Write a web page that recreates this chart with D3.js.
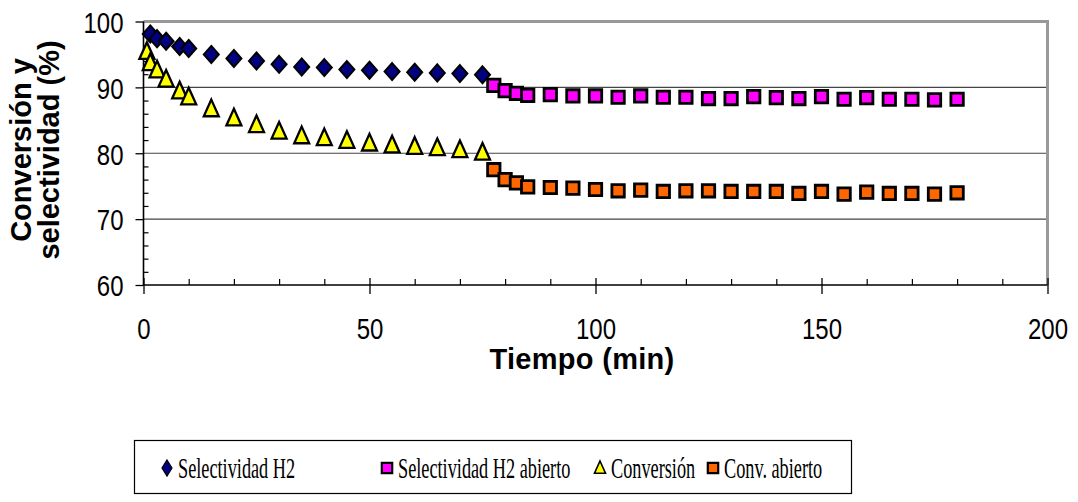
<!DOCTYPE html>
<html><head><meta charset="utf-8">
<script src="https://cdn.jsdelivr.net/npm/d3@7"></script>
<style>
body{margin:0;background:#fff;}
svg{display:block;}
</style></head>
<body>
<svg id="c" width="1078" height="502"></svg>
<script>
// ---- data ----
const selX = [1.5, 3, 5, 8, 10, 15, 20, 25, 30, 35, 40, 45, 50, 55, 60, 65, 70, 75];
const selY = [98.1, 97.4, 97.0, 96.2, 95.9, 95.0, 94.4, 94.0, 93.5, 93.1, 93.0, 92.7, 92.6, 92.4, 92.3, 92.2, 92.1, 91.9];
const convX = [0.75, 1.5, 3, 5, 8, 10, 15, 20, 25, 30, 35, 40, 45, 50, 55, 60, 65, 70, 75];
const convY = [95.4, 93.7, 92.6, 91.2, 89.4, 88.5, 86.7, 85.3, 84.3, 83.3, 82.6, 82.3, 81.9, 81.5, 81.2, 81.0, 80.8, 80.5, 80.1];
const abX = [77.5, 80, 82.5, 85, 90, 95, 100, 105, 110, 115, 120, 125, 130, 135, 140, 145, 150, 155, 160, 165, 170, 175, 180];
const selAbY = [90.3, 89.5, 89.1, 88.8, 88.9, 88.7, 88.7, 88.5, 88.7, 88.5, 88.5, 88.3, 88.3, 88.6, 88.45, 88.3, 88.6, 88.2, 88.45, 88.2, 88.2, 88.1, 88.2];
const convAbY = [77.5, 76.0, 75.5, 74.9, 74.8, 74.7, 74.5, 74.3, 74.4, 74.2, 74.3, 74.3, 74.2, 74.2, 74.2, 73.9, 74.2, 73.8, 74.1, 73.9, 73.9, 73.8, 74.0];
const xTicks = [0, 50, 100, 150, 200];
const yTicks = [60, 70, 80, 90, 100];
const seriesNames = ["Selectividad H2", "Selectividad H2 abierto", "Conversión", "Conv. abierto"];
const xTitle = "Tiempo (min)";
const yTitle = ["Conversión y", "selectividad (%)"];

// ---- layout ----
const L = 143.5, R = 1047.5, T = 21.5, B = 285;
const svg = d3.select("#c");
const x = d3.scaleLinear().domain([0, 200]).range([L, R]);
const y = d3.scaleLinear().domain([60, 100]).range([B, T]);

// gridlines
svg.append("g").selectAll("line").data(yTicks.filter(v => v > 60 && v < 100)).join("line")
  .attr("x1", L).attr("x2", R).attr("y1", d => y(d)).attr("y2", d => y(d))
  .attr("stroke", "#444").attr("stroke-width", 1.2);

// top & right border (gray)
svg.append("path").attr("d", `M${L},${T}H${R}V${B}`).attr("fill", "none")
  .attr("stroke", "#999").attr("stroke-width", 3);

// axes
const FONT = "'Liberation Sans', Arial, sans-serif";
const xAxis = svg.append("g").attr("transform", `translate(0,${B})`)
  .call(d3.axisBottom(x).tickValues(xTicks).tickSize(8).tickFormat(d3.format("d")));
xAxis.select(".domain").remove();
xAxis.selectAll(".tick line").attr("y1", -7).attr("y2", 9).attr("stroke", "#000").attr("stroke-width", 1.3);
xAxis.selectAll(".tick text").attr("y", 0).attr("dy", null)
  .attr("font-family", FONT).attr("font-size", 30).attr("fill", "#000")
  .attr("transform", "translate(0,54) scale(0.8,1)");
const xMinor = svg.append("g").attr("transform", `translate(0,${B})`)
  .call(d3.axisTop(x).tickValues(d3.range(10, 200, 10).filter(v => v % 50)).tickSize(6).tickFormat(""));
xMinor.select(".domain").remove();
xMinor.selectAll(".tick line").attr("stroke", "#000").attr("stroke-width", 1.2);

const yAxis = svg.append("g").attr("transform", `translate(${L},0)`)
  .call(d3.axisLeft(y).tickValues(yTicks).tickSize(8).tickFormat(d3.format("d")));
yAxis.select(".domain").remove();
yAxis.selectAll(".tick line").attr("stroke", "#000").attr("stroke-width", 1.3);
yAxis.selectAll(".tick text").attr("x", 0).attr("dy", "0.36em")
  .attr("font-family", FONT).attr("font-size", 30).attr("fill", "#000")
  .attr("transform", "translate(-20,0) scale(0.8,1)");
const yMinor = svg.append("g").attr("transform", `translate(${L},0)`)
  .call(d3.axisRight(y).tickValues(d3.range(62, 100, 2).filter(v => v % 10)).tickSize(5).tickFormat(""));
yMinor.select(".domain").remove();
yMinor.selectAll(".tick line").attr("stroke", "#000").attr("stroke-width", 1.2);

// axis lines
svg.append("path").attr("d", `M${L},${T}V${B}H${R}`).attr("fill", "none")
  .attr("stroke", "#000").attr("stroke-width", 1.6);

// titles
svg.append("text").attr("x", 582).attr("y", 369).attr("text-anchor", "middle")
  .attr("font-family", FONT).attr("font-weight", "bold").attr("font-size", 29)
  .attr("letter-spacing", 0.3).text(xTitle);
const yt = svg.append("text").attr("transform", `translate(31,150) rotate(-90)`)
  .attr("text-anchor", "middle").attr("font-family", FONT).attr("font-weight", "bold").attr("font-size", 29);
yt.append("tspan").attr("x", 0).attr("dy", 0).text(yTitle[0]);
yt.append("tspan").attr("x", 0).attr("dy", 28).text(yTitle[1]);

// marker shapes
const shapes = {
  diamond: (w, h) => `M0,${-h}L${w},0L0,${h}L${-w},0Z`,
  square: (s) => `M${-s},${-s}H${s}V${s}H${-s}Z`,
  triangle: (w, h) => `M0,${-h}L${w},${h * 0.75}L${-w},${h * 0.75}Z`
};
const styles = [
  {d: shapes.diamond(7.5, 8.5), fill: "#000080", sw: 2},
  {d: shapes.square(6.2), fill: "#FF00FF", sw: 2.8},
  {d: shapes.triangle(7.5, 9.5), fill: "#FFFF00", sw: 2.3},
  {d: shapes.square(6.2), fill: "#FF6600", sw: 2.8}
];
const series = [
  {xs: selX, ys: selY, st: styles[0]},
  {xs: abX, ys: selAbY, st: styles[1]},
  {xs: convX, ys: convY, st: styles[2]},
  {xs: abX, ys: convAbY, st: styles[3]}
];
const drawOrder = [0, 2, 1, 3];
drawOrder.forEach(i => {
  const s = series[i];
  svg.append("g").selectAll("path").data(s.xs.map((v, j) => [v, s.ys[j]])).join("path")
    .attr("transform", d => `translate(${x(d[0])},${y(d[1])})`)
    .attr("d", s.st.d).attr("fill", s.st.fill).attr("stroke", "#000")
    .attr("stroke-width", s.st.sw).attr("stroke-linejoin", "miter");
});

// legend
const LG = {x: 134.5, y: 440.5, w: 717, h: 53};
svg.append("rect").attr("x", LG.x).attr("y", LG.y).attr("width", LG.w).attr("height", LG.h)
  .attr("fill", "#fff").attr("stroke", "#000").attr("stroke-width", 1.2);
const legX = [167, 387, 600, 713];
const legStyles = [
  {d: shapes.diamond(5, 8), fill: "#000080", sw: 1.2},
  {d: shapes.square(5.2), fill: "#FF00FF", sw: 2.2},
  {d: shapes.triangle(5.5, 7), fill: "#FFFF00", sw: 1.6},
  {d: shapes.square(5.2), fill: "#FF6600", sw: 2.2}
];
seriesNames.forEach((name, i) => {
  const g = svg.append("g").attr("transform", `translate(${legX[i]},468)`);
  g.append("path").attr("d", legStyles[i].d).attr("fill", legStyles[i].fill)
    .attr("stroke", "#000").attr("stroke-width", legStyles[i].sw);
  g.append("text").attr("transform", "translate(11,10) scale(0.63,1)")
    .attr("font-family", "'Liberation Serif', 'Times New Roman', serif").attr("font-size", 29)
    .attr("fill", "#000").text(name);
});
</script>
</body></html>
